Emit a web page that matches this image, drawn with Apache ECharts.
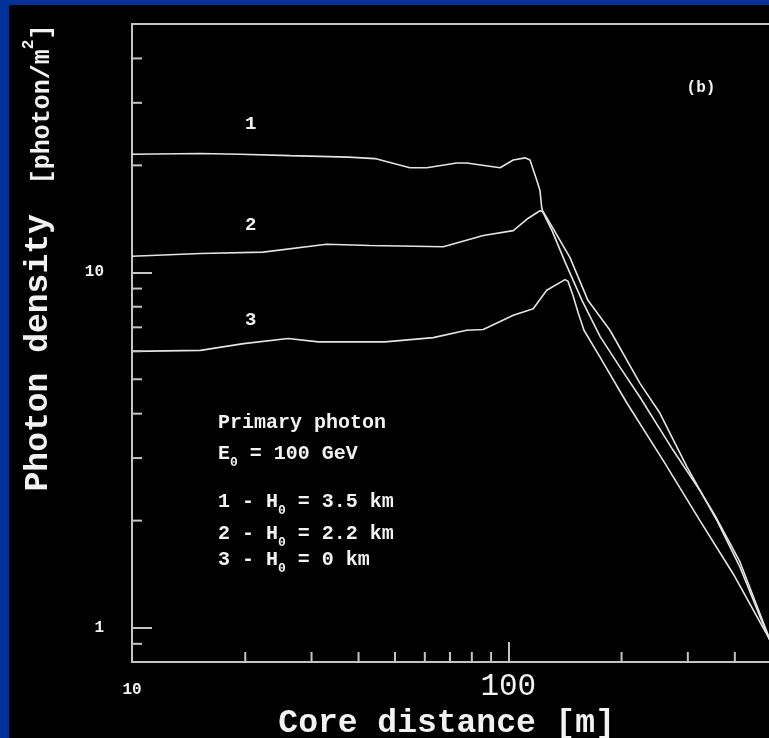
<!DOCTYPE html>
<html><head><meta charset="utf-8">
<script src="https://cdn.jsdelivr.net/npm/echarts@6/dist/echarts.min.js"></script>
<style>
html,body{margin:0;padding:0;background:#003399;width:769px;height:738px;overflow:hidden}
#c{position:absolute;left:9px;top:5px;width:760px;height:733px;background:#000}
</style></head><body><div id="c"></div>
<script>
// ---- data (core distance [m], photon density [photon/m^2]) ----
const curve1 = [[10,21.5],[15.2,21.6],[19.4,21.5],[26.3,21.3],[37.6,21.1],[44.2,20.9],[54.8,19.7],[60.7,19.7],[73.0,20.3],[77.5,20.3],[95.1,19.7],[103.1,20.7],[110.8,21.0],[114.2,20.7],[119.0,18.2],[121.4,17.0],[122.7,15.2],[123.7,14.75],[130.7,13.1],[141.5,10.7],[157.0,8.34],[175.3,6.60],[198.2,5.40],[223.9,4.45],[274.0,3.16],[323.1,2.43],[354.2,2.07],[412.8,1.53],[493.0,0.94],[500,0.92]];
const curve2 = [[10,11.1],[15.2,11.3],[22.3,11.4],[32.9,12.0],[42.9,11.9],[67.2,11.8],[85.8,12.7],[103.1,13.1],[113.0,14.2],[121.4,14.9],[123.9,14.8],[131.5,13.3],[145.9,11.0],[162.8,8.34],[186.3,6.87],[223.9,4.87],[253.0,4.01],[298.6,2.83],[358.6,2.00],[412.8,1.48],[493.0,0.93],[500,0.91]];
const curve3 = [[10,5.99],[15.2,6.03],[19.8,6.30],[26.0,6.51],[31.3,6.37],[47.0,6.37],[63.2,6.55],[77.5,6.87],[85.8,6.90],[103.1,7.57],[116.5,7.90],[126.5,8.90],[141.5,9.54],[144.1,9.44],[148.6,8.61],[153.2,7.72],[158.9,6.87],[175.3,5.77],[206.8,4.28],[257.7,2.96],[323.1,2.00],[395.5,1.42],[475.3,1.00],[500,0.91]];

const X_MIN = 10, X_MAX = 500;
const Y_MIN = 0.8, Y_MAX = 50;
const xMajorTicks = [10, 100];
const yMajorTicks = [1, 10];
const xMinorTicks = [20,30,40,50,60,70,80,90,200,300,400];
const yMinorTicks = [0.9,2,3,4,5,6,7,8,9,20,30,40];

// ---- styling ----
const FONT = '"Liberation Mono","DejaVu Sans Mono",monospace';
const AX = '#c4c4c4';
const LINE = '#e4e4e4';
const TXT = '#f2f2f2';

const chart = echarts.init(document.getElementById('c'), null, {renderer:'canvas'});

function isTick(v, arr){ return arr.some(t => Math.abs(v - t) < 1e-6 * t); }

function minorTickSeries(data, horizontal){
  return {
    type:'custom', coordinateSystem:'cartesian2d', silent:true, clip:false, z:5,
    data: data,
    renderItem: function(params, api){
      const p = api.coord([api.value(0), api.value(1)]);
      const shape = horizontal
        ? {x1:p[0], y1:p[1], x2:p[0]+10, y2:p[1]}
        : {x1:p[0], y1:p[1], x2:p[0], y2:p[1]-10};
      return {type:'line', shape:shape, style:{stroke:AX, lineWidth:2}};
    }
  };
}

function lineSeries(name, data){
  return {name:name, type:'line', data:data, showSymbol:false, symbol:'none', smooth:false,
    lineStyle:{color:LINE, width:1.6}, z:3, animation:false};
}

const mainRich = {fontFamily:FONT, fontWeight:'bold', fontSize:20, color:TXT, lineHeight:24, verticalAlign:'bottom'};
const subRich  = {fontFamily:FONT, fontWeight:'bold', fontSize:13, color:TXT, lineHeight:14, verticalAlign:'bottom', padding:[0,0,-5,0]};

function infoLine(x, y, text){
  return {type:'text', x:x, y:y, silent:true, z:10,
    style:{text:text, rich:{m:mainRich, s:subRich}, align:'left', verticalAlign:'middle', fill:TXT}};
}

const option = {
  backgroundColor:'#000',
  animation:false,
  grid:{left:123, top:19, right:-2.3, bottom:76, outerBoundsMode:'none', containLabel:false,
        show:true, borderColor:AX, borderWidth:2, backgroundColor:'transparent'},
  xAxis:{
    type:'log', logBase:10, min:X_MIN, max:X_MAX,
    axisLine:{show:true, lineStyle:{color:AX, width:2}},
    axisTick:{show:true, inside:true, length:20, lineStyle:{color:AX, width:2}},
    splitLine:{show:false}, minorTick:{show:false},
    axisLabel:{
      margin:9, hideOverlap:false, showMinLabel:true, showMaxLabel:false,
      formatter:function(v){ if(isTick(v,[xMajorTicks[0]])) return '{s|10}'; if(isTick(v,[xMajorTicks[1]])) return '{b|100}'; return ''; },
      rich:{
        s:{fontFamily:FONT, fontWeight:'bold', fontSize:16, color:TXT, padding:[11,0,0,0]},
        b:{fontFamily:FONT, fontSize:31, color:TXT}
      }
    },
    name:'Core distance [m]', nameLocation:'middle', nameGap:36,
    nameTextStyle:{fontFamily:FONT, fontWeight:'bold', fontSize:33, color:TXT, padding:[0,10,0,0]}
  },
  yAxis:{
    type:'log', logBase:10, min:Y_MIN, max:Y_MAX,
    axisLine:{show:true, lineStyle:{color:AX, width:2}},
    axisTick:{show:true, inside:true, length:20, lineStyle:{color:AX, width:2}},
    splitLine:{show:false}, minorTick:{show:false},
    axisLabel:{
      margin:28, hideOverlap:false, showMinLabel:false, showMaxLabel:false,
      fontFamily:FONT, fontWeight:'bold', fontSize:16, color:TXT,
      formatter:function(v){ return isTick(v, yMajorTicks) ? String(Math.round(v)) : ''; }
    }
  },
  series:[
    lineSeries('1', curve1),
    lineSeries('2', curve2),
    lineSeries('3', curve3),
    minorTickSeries(yMinorTicks.map(v => [X_MIN, v]), true),
    minorTickSeries(xMinorTicks.map(v => [v, Y_MIN]), false)
  ],
  graphic:[
    {type:'text', x:29, y:253, rotation:Math.PI/2, silent:true,
      style:{text:'{a|Photon density}{b|  [photon/m}{p|2}{b|]}', align:'center', verticalAlign:'middle', fill:TXT,
        rich:{
          a:{fontFamily:FONT, fontWeight:'bold', fontSize:33, color:TXT, lineHeight:34, verticalAlign:'bottom'},
          b:{fontFamily:FONT, fontWeight:'bold', fontSize:25, color:TXT, lineHeight:34, verticalAlign:'bottom'},
          p:{fontFamily:FONT, fontWeight:'bold', fontSize:16, color:TXT, lineHeight:16, verticalAlign:'top'}
        }}},
    {type:'text', x:241.7, y:119, silent:true, style:{text:'1', font:'bold 19px '+FONT, fill:TXT, align:'center', verticalAlign:'middle'}},
    {type:'text', x:241.7, y:220, silent:true, style:{text:'2', font:'bold 19px '+FONT, fill:TXT, align:'center', verticalAlign:'middle'}},
    {type:'text', x:241.7, y:315, silent:true, style:{text:'3', font:'bold 19px '+FONT, fill:TXT, align:'center', verticalAlign:'middle'}},
    {type:'text', x:692, y:83, silent:true, style:{text:'(b)', font:'bold 16px '+FONT, fill:TXT, align:'center', verticalAlign:'middle'}},
    infoLine(209, 416, '{m|Primary photon}'),
    infoLine(209, 447, '{m|E}{s|0}{m| = 100 GeV}'),
    infoLine(209, 495, '{m|1 - H}{s|0}{m| = 3.5 km}'),
    infoLine(209, 527, '{m|2 - H}{s|0}{m| = 2.2 km}'),
    infoLine(209, 553, '{m|3 - H}{s|0}{m| = 0 km}')
  ]
};
chart.setOption(option);
</script></body></html>
